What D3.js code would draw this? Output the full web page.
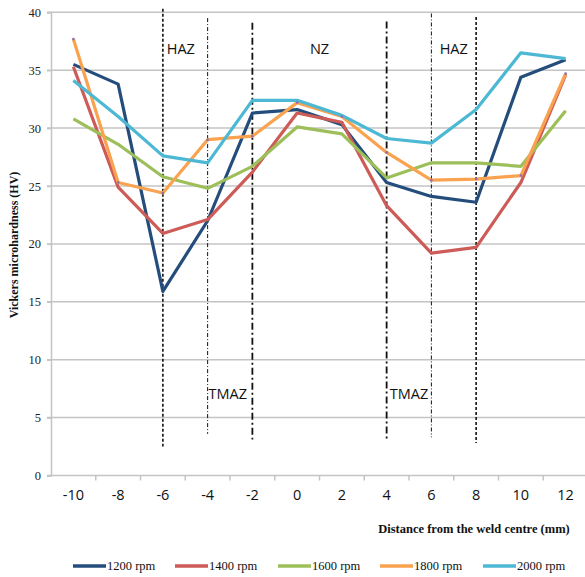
<!DOCTYPE html>
<html>
<head>
<meta charset="utf-8">
<script src="https://cdn.jsdelivr.net/npm/d3@7"></script>
<style>
  body { margin: 0; background: #fff; }
</style>
</head>
<body>
<script>
'use strict';

// distance from weld centre (mm)
const categories = ["-10", "-8", "-6", "-4", "-2", "0", "2", "4", "6", "8", "10", "12"];

// hardness values (HV) per rotation speed
const rpm1200 = [35.5, 33.8, 15.9, 22.0, 31.3, 31.6, 30.3, 25.3, 24.1, 23.6, 34.4, 35.9];
const rpm1400 = [35.3, 24.9, 20.9, 22.1, 26.2, 31.3, 30.5, 23.3, 19.2, 19.7, 25.3, 34.6];
const rpm1600 = [30.8, 28.6, 25.8, 24.8, 26.7, 30.1, 29.5, 25.7, 27.0, 27.0, 26.7, 31.5];
const rpm1800 = [37.7, 25.3, 24.4, 29.0, 29.3, 32.2, 31.0, 27.9, 25.5, 25.6, 25.9, 34.7];
const rpm2000 = [34.1, 31.0, 27.6, 27.0, 32.4, 32.4, 31.1, 29.1, 28.7, 31.6, 36.5, 36.0];

const seriesNames = ["1200 rpm", "1400 rpm", "1600 rpm", "1800 rpm", "2000 rpm"];

const yTicks = [0, 5, 10, 15, 20, 25, 30, 35, 40];

// zone boundary lines (x category, top and bottom value)
const zoneX = ["-6", "-4", "-2", "4", "6", "8"];
const zoneTop = [40.3, 39.5, 39.1, 39.2, 39.9, 39.6];
const zoneBottom = [2.5, 3.6, 3.1, 3.2, 3.3, 2.8];

// zone labels (distance in mm, hardness level)
const zoneLabels = ["HAZ", "NZ", "HAZ", "TMAZ", "TMAZ"];
const zoneLabelX = [-5.2, 1, 7, -3.1, 5.0];
const zoneLabelY = [36.9, 36.9, 36.9, 7.1, 7.1];

(function() {

  const width = 585, height = 577;
  const colors = ["#244d7c", "#cd5b57", "#9cbf5a", "#f9a24f", "#4cb8d4"];
  const values = [rpm1200, rpm1400, rpm1600, rpm1800, rpm2000];

  let svg = d3.select('body')
    .append('svg')
    .attr('width', width)
    .attr('height', height);

  // scales
  let x = d3.scaleBand()
    .domain(categories)
    .range([51, 588]);
  let xc = (c) => x(c) + x.bandwidth() / 2;
  // linear mm -> px for free annotations, same as band centres
  let xLin = d3.scaleLinear()
    .domain([-10, 12])
    .range([xc("-10"), xc("12")]);

  let y = d3.scaleLinear()
    .domain([0, 40])
    .range([475.5, 12.3]);

  // gridlines
  svg.append('g')
    .selectAll('line')
    .data(yTicks)
    .enter()
    .append('line')
      .attr('x1', 47)
      .attr('x2', width)
      .attr('y1', (d) => y(d))
      .attr('y2', (d) => y(d))
      .attr('stroke', '#c4c4c4')
      .attr('stroke-width', 1.5);

  // y axis
  let yAxis = d3.axisLeft(y).tickValues(yTicks).tickSize(4).tickPadding(6);
  let gy = svg.append('g')
    .attr('transform', 'translate(51,0)')
    .call(yAxis);
  gy.select('.domain').attr('stroke', '#c4c4c4').attr('stroke-width', 1.5);
  gy.selectAll('.tick line').attr('stroke', '#c4c4c4').attr('stroke-width', 1.5);
  gy.selectAll('.tick text')
    .attr('fill', '#222')
    .style('font-family', '"Liberation Serif", serif')
    .style('font-size', '12.5px');

  // x axis
  let xAxis = d3.axisBottom(x).tickSize(0).tickPadding(14);
  let gx = svg.append('g')
    .attr('transform', 'translate(0,' + y(0) + ')')
    .call(xAxis);
  gx.select('.domain').remove();
  gx.selectAll('.tick text')
    .attr('fill', '#111')
    .style('font-family', '"Open Sans", sans-serif')
    .style('font-size', '14.5px');
  // tick marks between categories
  svg.append('g')
    .selectAll('line')
    .data(categories.slice(1))
    .enter()
    .append('line')
      .attr('x1', (d) => x(d))
      .attr('x2', (d) => x(d))
      .attr('y1', y(0))
      .attr('y2', y(0) + 5)
      .attr('stroke', '#c4c4c4')
      .attr('stroke-width', 1.5);

  // zone boundaries
  const zoneDash = ["3,2", "4,2,1,2", "7,3,2,3", "7,3,2,3", "4,2,1,2", "3,2"];
  const zoneWidth = [1.6, 1, 1.8, 1.8, 1, 1.6];
  svg.append('g')
    .selectAll('line')
    .data(zoneX)
    .enter()
    .append('line')
      .attr('x1', (d) => xc(d))
      .attr('x2', (d) => xc(d))
      .attr('y1', (d, i) => y(zoneTop[i]))
      .attr('y2', (d, i) => y(zoneBottom[i]))
      .attr('stroke', '#111')
      .attr('stroke-width', (d, i) => zoneWidth[i])
      .attr('stroke-dasharray', (d, i) => zoneDash[i]);

  svg.append('g')
    .selectAll('text')
    .data(zoneLabels)
    .enter()
    .append('text')
      .attr('x', (d, i) => xLin(zoneLabelX[i]))
      .attr('y', (d, i) => y(zoneLabelY[i]))
      .attr('text-anchor', 'middle')
      .attr('dominant-baseline', 'central')
      .style('font-family', '"Open Sans", sans-serif')
      .style('font-size', '14.5px')
      .attr('fill', '#111')
      .text((d) => d);

  // series lines
  let line = d3.line()
    .x((d, i) => xc(categories[i]))
    .y((d) => y(d));

  values.forEach((vals, s) => {
    svg.append('path')
      .datum(vals)
      .attr('fill', 'none')
      .attr('stroke', colors[s])
      .attr('stroke-width', 3.2)
      .attr('stroke-linejoin', 'round')
      .attr('d', line);
  });

  // small markers on the 1800 rpm series
  svg.append('g')
    .selectAll('circle')
    .data(rpm1800)
    .enter()
    .append('circle')
      .attr('cx', (d, i) => xc(categories[i]))
      .attr('cy', (d) => y(d))
      .attr('r', 1.3)
      .attr('fill', '#8a6fb0');

  // axis titles
  svg.append('text')
    .attr('transform', 'translate(18,245)rotate(-90)')
    .attr('text-anchor', 'middle')
    .style('font-family', '"Liberation Serif", serif')
    .style('font-weight', 'bold')
    .style('font-size', '12px')
    .attr('fill', '#111')
    .text('Vickers microhardness (HV)');

  svg.append('text')
    .attr('x', 474)
    .attr('y', 533)
    .attr('text-anchor', 'middle')
    .style('font-family', '"Liberation Serif", serif')
    .style('font-weight', 'bold')
    .style('font-size', '12.5px')
    .attr('fill', '#111')
    .text('Distance from the weld centre (mm)');

  // legend
  const legendX = [73, 175, 278, 380, 483];
  let legend = svg.append('g')
    .selectAll('g')
    .data(seriesNames)
    .enter()
    .append('g')
      .attr('transform', (d, i) => 'translate(' + legendX[i] + ',566)');
  legend.append('line')
    .attr('x1', 0)
    .attr('x2', 33)
    .attr('stroke', (d, i) => colors[i])
    .attr('stroke-width', 3.5);
  legend.append('text')
    .attr('x', 34)
    .attr('y', 4)
    .style('font-family', '"Liberation Serif", serif')
    .style('font-size', '12.5px')
    .attr('fill', '#111')
    .text((d) => d);

})();
</script>
</body>
</html>
